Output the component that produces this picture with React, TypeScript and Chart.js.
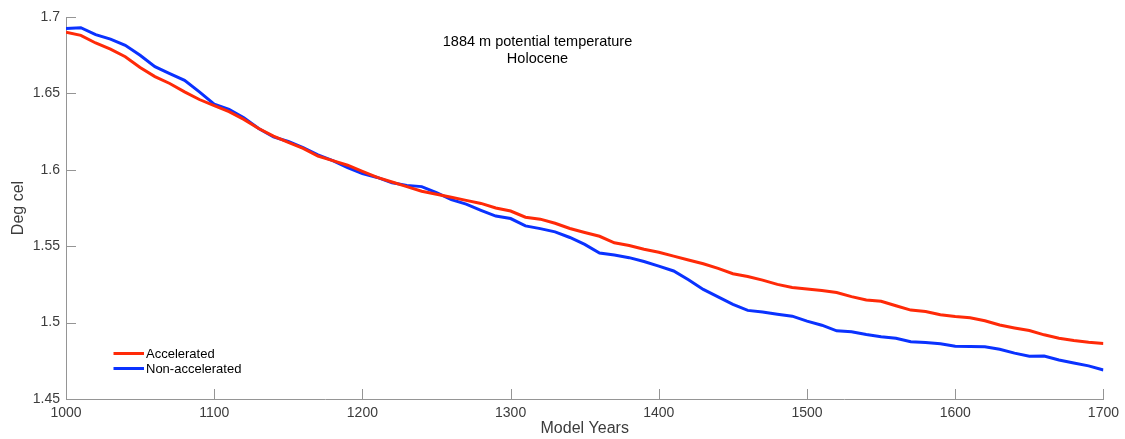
import React, { useEffect, useRef } from "react";
import { Chart, registerables } from "chart.js";

Chart.register(...registerables);

const years = [
  1000, 1010, 1020, 1030, 1040, 1050, 1060, 1070, 1080, 1090,
  1100, 1110, 1120, 1130, 1140, 1150, 1160, 1170, 1180, 1190,
  1200, 1210, 1220, 1230, 1240, 1250, 1260, 1270, 1280, 1290,
  1300, 1310, 1320, 1330, 1340, 1350, 1360, 1370, 1380, 1390,
  1400, 1410, 1420, 1430, 1440, 1450, 1460, 1470, 1480, 1490,
  1500, 1510, 1520, 1530, 1540, 1550, 1560, 1570, 1580, 1590,
  1600, 1610, 1620, 1630, 1640, 1650, 1660, 1670, 1680, 1690,
  1700,
];

const accelerated = [
  1.690, 1.688, 1.683, 1.679, 1.674, 1.667, 1.661, 1.6565, 1.651, 1.646,
  1.642, 1.638, 1.633, 1.627, 1.622, 1.618, 1.614, 1.609, 1.606, 1.603,
  1.599, 1.595, 1.592, 1.589, 1.586, 1.584, 1.582, 1.580, 1.578, 1.575,
  1.573, 1.569, 1.5677, 1.565, 1.5616, 1.559, 1.5565, 1.5522, 1.5505, 1.548,
  1.546, 1.5435, 1.541, 1.5385, 1.5355, 1.532, 1.5302, 1.5278, 1.525, 1.523,
  1.522, 1.521, 1.5197, 1.517, 1.5148, 1.514, 1.511, 1.5082, 1.5073, 1.5052,
  1.504, 1.5032, 1.5012, 1.4984, 1.4965, 1.4948, 1.492, 1.4898, 1.4883, 1.4872,
  1.4864,
];

const nonAccelerated = [
  1.6924, 1.693, 1.6885, 1.6855, 1.6815, 1.675, 1.6675, 1.663, 1.6586, 1.651,
  1.643, 1.6395, 1.634, 1.627, 1.6215, 1.6185, 1.6145, 1.6098, 1.606, 1.6015,
  1.5976, 1.595, 1.5915, 1.5898, 1.589, 1.585, 1.5805, 1.5775, 1.5735, 1.5697,
  1.5681, 1.5633, 1.5615, 1.5594, 1.5557, 1.5512, 1.5455, 1.5443, 1.5425, 1.540,
  1.537, 1.5338, 1.528, 1.5217, 1.5168, 1.512, 1.508, 1.507, 1.5055, 1.5042,
  1.501, 1.4983, 1.4946, 1.494, 1.4922, 1.4908, 1.4897, 1.4875, 1.487, 1.4862,
  1.4845, 1.4843, 1.4842, 1.4825, 1.480, 1.478, 1.4781, 1.4755, 1.4735, 1.4717,
  1.469,
];

const xTicks = [1000, 1100, 1200, 1300, 1400, 1500, 1600, 1700];
const xTickLabels = ["1000", "1100", "1200", "1300", "1400", "1500", "1600", "1700"];
const yTicks = [1.45, 1.5, 1.55, 1.6, 1.65, 1.7];
const yTickLabels = ["1.45", "1.5", "1.55", "1.6", "1.65", "1.7"];

const seriesNames = ["Accelerated", "Non-accelerated"];
const seriesColors = ["#ff2a08", "#0a32ff"];
const titleLines = ["1884 m potential temperature", "Holocene"];
const xTitle = "Model Years";
const yTitle = "Deg cel";

const FONT = '"Liberation Sans", Arial, Helvetica, sans-serif';
const AXIS_COLOR = "#959595";
const LABEL_COLOR = "#3c3c3c";

const inwardTicks = {
  id: "inwardTicks",
  beforeDatasetsDraw(chart: any) {
    const { ctx, chartArea } = chart;
    const xs = chart.scales.x;
    const ys = chart.scales.y;
    ctx.save();
    ctx.strokeStyle = AXIS_COLOR;
    ctx.lineWidth = 1;
    ctx.beginPath();
    xs.ticks.forEach((t: any) => {
      const px = Math.round(xs.getPixelForValue(t.value)) + 0.5;
      ctx.moveTo(px, chartArea.bottom);
      ctx.lineTo(px, chartArea.bottom - 10);
    });
    ys.ticks.forEach((t: any) => {
      const py = Math.round(ys.getPixelForValue(t.value)) + 0.5;
      ctx.moveTo(chartArea.left, py);
      ctx.lineTo(chartArea.left + 10, py);
    });
    ctx.stroke();
    ctx.restore();
  },
};

const titleAndLegend = {
  id: "titleAndLegend",
  afterDraw(chart: any) {
    const { ctx, chartArea } = chart;
    ctx.save();
    // title
    ctx.fillStyle = "#000";
    ctx.font = `14.5px ${FONT}`;
    ctx.textAlign = "center";
    ctx.textBaseline = "alphabetic";
    const tx = chartArea.left + 471.5;
    titleLines.forEach((line, i) => {
      ctx.fillText(line, tx, chartArea.top + 29 + i * 16.5);
    });
    // legend
    ctx.font = `13px ${FONT}`;
    ctx.textAlign = "left";
    ctx.textBaseline = "middle";
    chart.data.datasets.forEach((ds: any, i: number) => {
      const y = chartArea.top + 336.5 + i * 15;
      ctx.strokeStyle = ds.borderColor;
      ctx.lineWidth = 3;
      ctx.beginPath();
      ctx.moveTo(chartArea.left + 47.5, y);
      ctx.lineTo(chartArea.left + 78, y);
      ctx.stroke();
      ctx.fillStyle = "#000";
      ctx.fillText(ds.label, chartArea.left + 80, y + 0.5);
    });
    ctx.restore();
  },
};

export default function App() {
  const canvasRef = useRef<HTMLCanvasElement | null>(null);

  useEffect(() => {
    document.body.style.margin = "0";
    const canvas = canvasRef.current;
    if (!canvas) return;
    const chart = new Chart(canvas, {
      type: "line",
      data: {
        datasets: [accelerated, nonAccelerated].map((vals, i) => ({
          label: seriesNames[i],
          data: years.map((yr, j) => ({ x: yr, y: vals[j] })),
          borderColor: seriesColors[i],
          backgroundColor: seriesColors[i],
          borderWidth: 3,
          pointRadius: 0,
          tension: 0,
          fill: false,
        })),
      },
      options: {
        animation: false,
        responsive: true,
        maintainAspectRatio: false,
        layout: { padding: { top: 17, right: 21, left: 0, bottom: 0 } },
        plugins: {
          legend: { display: false },
          title: { display: false },
          tooltip: { enabled: false },
        },
        scales: {
          x: {
            type: "linear",
            min: 1000,
            max: 1700,
            afterBuildTicks: (scale: any) => {
              scale.ticks = xTicks.map((v) => ({ value: v }));
            },
            afterFit: (scale: any) => {
              scale.height = 40;
            },
            grid: { display: false, drawTicks: false },
            border: { display: true, color: AXIS_COLOR, width: 1 },
            ticks: {
              padding: 6,
              maxRotation: 0,
              autoSkip: false,
              color: LABEL_COLOR,
              font: { family: FONT, size: 14 },
              callback: (v: any) => {
                const idx = xTicks.indexOf(Number(v));
                return idx >= 0 ? xTickLabels[idx] : "";
              },
            },
            title: {
              display: true,
              text: xTitle,
              color: LABEL_COLOR,
              font: { family: FONT, size: 16 },
              padding: { top: 0, bottom: 1 },
            },
          },
          y: {
            type: "linear",
            min: 1.45,
            max: 1.7,
            afterBuildTicks: (scale: any) => {
              scale.ticks = yTicks.map((v) => ({ value: v }));
            },
            afterFit: (scale: any) => {
              scale.width = 66;
            },
            grid: { display: false, drawTicks: false },
            border: { display: true, color: AXIS_COLOR, width: 1 },
            ticks: {
              padding: 6,
              autoSkip: false,
              color: LABEL_COLOR,
              font: { family: FONT, size: 14 },
              callback: (v: any) => {
                const idx = yTicks.findIndex((t) => Math.abs(t - Number(v)) < 1e-9);
                return idx >= 0 ? yTickLabels[idx] : "";
              },
            },
            title: {
              display: true,
              text: yTitle,
              color: LABEL_COLOR,
              font: { family: FONT, size: 16 },
              padding: { top: 9, bottom: 0 },
            },
          },
        },
      },
      plugins: [inwardTicks, titleAndLegend],
    });
    return () => chart.destroy();
  }, []);

  return (
    <div style={{ width: "1125px", height: "439px", position: "relative" }}>
      <canvas ref={canvasRef} />
    </div>
  );
}
